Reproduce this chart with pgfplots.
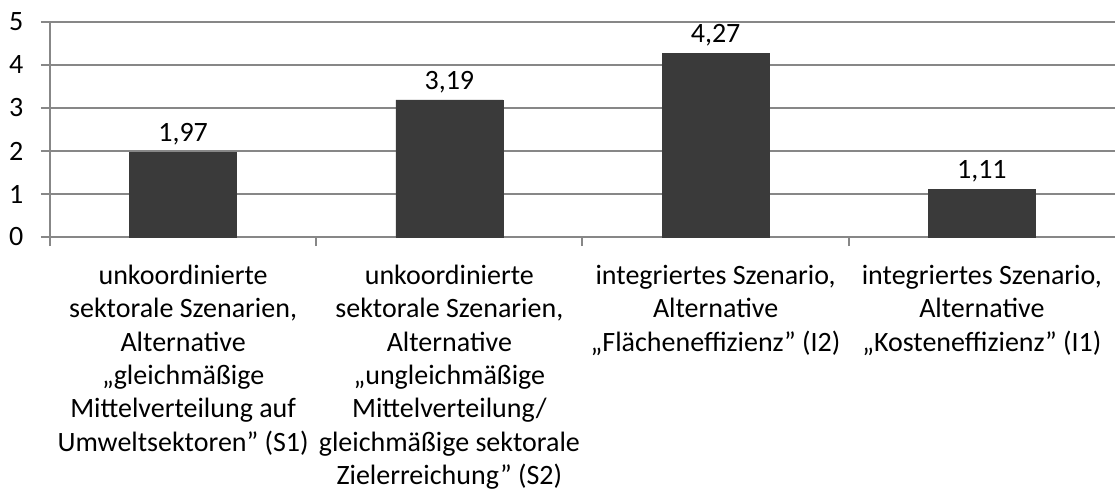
\documentclass[border=0pt]{standalone}
\usepackage{pgfplots}
\pgfplotsset{compat=1.18}
\usepackage{fontspec}
\setmainfont{Carlito}
\definecolor{barc}{HTML}{3A3A3A}
\definecolor{gridc}{HTML}{878787}
\begin{document}
\begin{tikzpicture}
\begin{axis}[
  scale only axis,
  width=1065pt, height=215pt,
  xmin=-0.5, xmax=3.5, ymin=0, ymax=5,
  axis x line=bottom, axis y line=left,
  axis line style={-, draw=gridc, line width=2pt},
  ytick={0,1,2,3,4,5},
  ymajorgrids,
  major grid style={draw=gridc, line width=2pt},
  tick align=outside,
  major tick length=9pt,
  minor tick length=9pt,
  ytick style={draw=gridc, line width=2pt},
  xtick={0,1,2,3},
  major x tick style={draw=none},
  minor xtick={-0.5,0.5,1.5,2.5},
  minor x tick style={draw=gridc, line width=2pt},
  xticklabels={
    {unkoordinierte\\sektorale Szenarien,\\Alternative\\„gleichmäßige\\Mittelverteilung auf\\Umweltsektoren” (S1)},
    {unkoordinierte\\sektorale Szenarien,\\Alternative\\„ungleichmäßige\\Mittelverteilung/\\gleichmäßige sektorale\\Zielerreichung” (S2)},
    {integriertes Szenario,\\Alternative\\„Flächeneffizienz” (I2)},
    {integriertes Szenario,\\Alternative\\„Kosteneffizienz” (I1)}},
  xticklabel style={align=center, font=\fontsize{28}{33.3}\selectfont, anchor=north, inner sep=0pt, yshift=-19pt},
  yticklabel style={font=\fontsize{28}{34}\selectfont, inner sep=0pt, xshift=-17.5pt},
  /pgf/number format/assume math mode=true,
  /pgf/number format/use comma,
  ybar, bar width=107pt,
  nodes near coords,
  nodes near coords style={font=\fontsize{28}{34}\selectfont, /pgf/number format/fixed, /pgf/number format/fixed zerofill, /pgf/number format/precision=2, inner sep=0pt, yshift=7pt},
  clip=false,
]
\addplot[fill=barc, draw=barc] coordinates {(0,1.97) (1,3.19) (2,4.27) (3,1.11)};
\coordinate (O) at (rel axis cs:0,0);
\end{axis}
\pgfresetboundingbox
\path ([shift={(-50pt,-257pt)}]O) rectangle ([shift={(1065pt,237pt)}]O);
\end{tikzpicture}
\end{document}
